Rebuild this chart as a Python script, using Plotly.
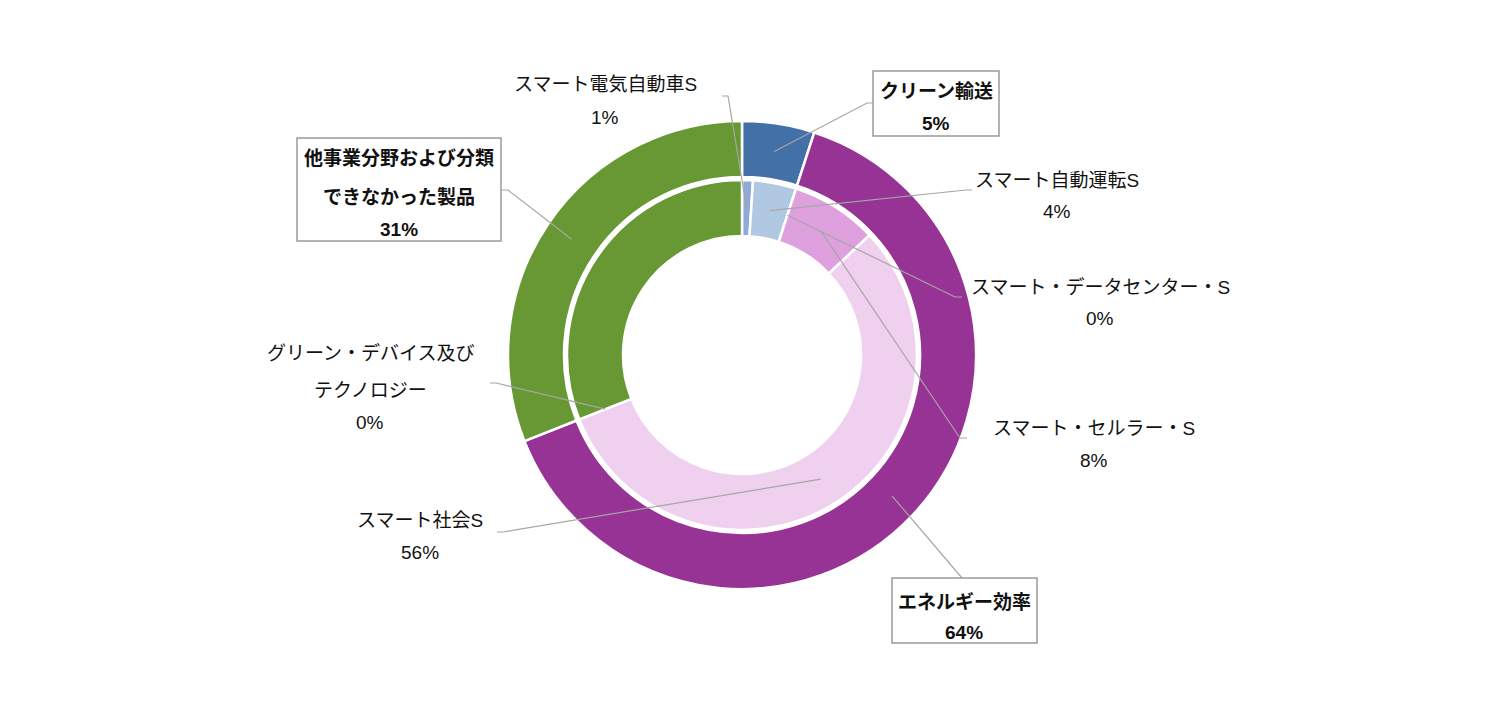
import math
import plotly.graph_objects as go

# ---------------- data ----------------
outer_labels = ["クリーン輸送", "エネルギー効率", "他事業分野および分類できなかった製品"]
outer_values = [5, 64, 31]
outer_colors = ["#4470A8", "#973394", "#679833"]

inner_labels = ["スマート電気自動車S", "スマート自動運転S", "スマート・データセンター・S",
                "スマート・セルラー・S", "スマート社会S", "グリーン・デバイス及びテクノロジー",
                "他事業分野および分類できなかった製品"]
inner_values = [1, 4, 0, 8, 56, 0, 31]
inner_colors = ["#8EAAD8", "#B1C8E3", "#DDA0DD", "#DFA1DE", "#F0D0EF", "#8FB060", "#679833"]

# label text lines (display)
outer_label_lines = [["クリーン輸送"], ["エネルギー効率"], ["他事業分野および分類", "できなかった製品"]]
inner_label_lines = [["スマート電気自動車S"], ["スマート自動運転S"], ["スマート・データセンター・S"],
                     ["スマート・セルラー・S"], ["スマート社会S"], ["グリーン・デバイス及び", "テクノロジー"],
                     None]

# ---------------- layout geometry (pixels) ----------------
W, H = 1500, 721
CX, CY = 742, 355
R_OUT, R_OUT_IN = 234, 178
R_IN, R_IN_IN = 175, 119
FONT = "Liberation Sans, Noto Sans CJK JP"
FS = 19
LINE_COLOR = "#A6A6A6"


def px(x):
    return x / W


def py(y):
    return 1 - y / H


fig = go.Figure()
fig.add_trace(go.Pie(
    labels=outer_labels, values=outer_values, sort=False, direction="clockwise", rotation=0,
    hole=R_OUT_IN / R_OUT, marker=dict(colors=outer_colors, line=dict(color="white", width=2.5)),
    textinfo="none", hoverinfo="label+percent", showlegend=False,
    domain=dict(x=[px(CX - R_OUT), px(CX + R_OUT)], y=[py(CY + R_OUT), py(CY - R_OUT)]),
))
fig.add_trace(go.Pie(
    labels=inner_labels, values=inner_values, sort=False, direction="clockwise", rotation=0,
    hole=R_IN_IN / R_IN, marker=dict(colors=inner_colors, line=dict(color="white", width=2.5)),
    textinfo="none", hoverinfo="label+percent", showlegend=False,
    domain=dict(x=[px(CX - R_IN), px(CX + R_IN)], y=[py(CY + R_IN), py(CY - R_IN)]),
))


def mid_point(values, idx, r):
    tot = sum(values)
    start = sum(values[:idx]) / tot
    frac = start + values[idx] / tot / 2
    ang = frac * 2 * math.pi
    return CX + r * math.sin(ang), CY - r * math.cos(ang)


def pct(values, idx):
    return f"{round(values[idx] / sum(values) * 100)}%"


shapes = []
annotations = []


def add_text(x, y, text, bold=False):
    annotations.append(dict(
        x=px(x), y=py(y), xref="paper", yref="paper", showarrow=False,
        text=f"<b>{text}</b>" if bold else text, xanchor="center", yanchor="middle",
        font=dict(family=FONT, size=FS, color="#111111"),
    ))


def add_leader(points):
    path = "M " + " L ".join(f"{px(x)},{py(y)}" for x, y in points)
    shapes.append(dict(type="path", path=path, xref="paper", yref="paper",
                       line=dict(color=LINE_COLOR, width=1.2), layer="above"))


R_OUT_MID = (R_OUT + R_OUT_IN) / 2
R_IN_MID = (R_IN + R_IN_IN) / 2

outer_layout = [
    dict(cx=936, ys=[92, 123], leader=[(867, 103), (873, 103)], box=(873, 71, 999, 136)),
    dict(cx=964, ys=[602, 632], leader=[(962, 578)], box=(892, 578, 1037, 643)),
    dict(cx=399, ys=[158, 197, 229], leader=[(508, 190), (501, 190)], box=(297, 138, 501, 241)),
]
inner_layout = [
    dict(cx=605, ys=[85, 117], leader=[(728, 96), (722, 96)]),
    dict(cx=1057, ys=[180, 211], leader=[(966, 190), (972, 190)]),
    dict(cx=1100, ys=[287, 318], leader=[(955, 297), (962, 297)]),
    dict(cx=1094, ys=[429, 460], leader=[(960, 438), (967, 438)]),
    dict(cx=420, ys=[520, 552], leader=[(503, 532), (497, 532)]),
    dict(cx=370, ys=[353, 390, 422], leader=[(496, 383), (490, 383)]),
    None,
]

for i, lay in enumerate(outer_layout):
    start = mid_point(outer_values, i, R_OUT_MID)
    add_leader([start] + lay["leader"])
    x0, y0, x1, y1 = lay["box"]
    shapes.append(dict(type="rect", xref="paper", yref="paper", x0=px(x0), x1=px(x1), y0=py(y1), y1=py(y0),
                       line=dict(color="#9A9A9A", width=1.5), fillcolor="white", layer="above"))
    lines = outer_label_lines[i] + [pct(outer_values, i)]
    for t, y in zip(lines, lay["ys"]):
        add_text(lay["cx"], y, t, bold=True)

for i, lay in enumerate(inner_layout):
    if lay is None:
        continue
    start = mid_point(inner_values, i, R_IN_MID)
    add_leader([start] + lay["leader"])
    lines = inner_label_lines[i] + [pct(inner_values, i)]
    for t, y in zip(lines, lay["ys"]):
        add_text(lay["cx"], y, t)

fig.update_layout(
    width=W, height=H, margin=dict(l=0, r=0, t=0, b=0),
    paper_bgcolor="white", plot_bgcolor="white",
    shapes=shapes, annotations=annotations, showlegend=False,
    font=dict(family=FONT),
)

fig.write_html("out.html")
